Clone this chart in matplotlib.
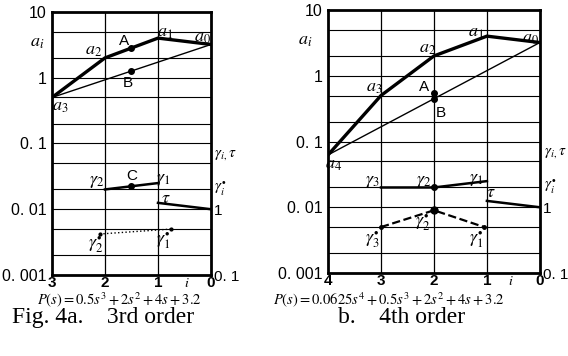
import matplotlib
matplotlib.use('Agg')
import matplotlib.pyplot as plt

plt.rcParams['mathtext.fontset'] = 'stix'
plt.rcParams['font.family'] = ['Liberation Sans Narrow', 'Liberation Sans', 'DejaVu Sans']

# --- data: coefficients a_i, gamma_i, tau, gamma_i* ---
# 3rd order
i3 = [3, 2, 1, 0]
a3 = [0.5, 2, 4, 3.2]
ptA3 = (1.5, 2.83)
ptB3 = (1.5, 1.26)
g_i3 = [2, 1]
g3 = [2.0, 2.5]
ptC3 = (1.5, 2.24)
tau_i = [1, 0]
tau = [1.25, 1.0]
gs_i3 = [2.1, 0.75]
gs3 = [0.42, 0.5]

# 4th order
i4 = [4, 3, 2, 1, 0]
a4 = [0.0625, 0.5, 2, 4, 3.2]
ptA4 = (2, 0.55)
ptB4 = (2, 0.45)
g_i4 = [3, 2, 1]
g4 = [2.0, 2.0, 2.5]
gs_i4 = [3, 2, 1.05]
gs4 = [0.5, 0.9, 0.5]

ylab = ['0. 001', '0. 01', '0. 1', '1', '10']
yval = [0.001, 0.01, 0.1, 1, 10]
grid_y = [m * 10.0 ** e for e in range(-3, 1) for m in (1, 2, 5)]

fig = plt.figure(figsize=(5.68, 3.56), dpi=100)
axL = fig.add_axes([0.0915, 0.2275, 0.280, 0.739])
axR = fig.add_axes([0.5775, 0.233, 0.373, 0.739])


def setup(ax, n, ipos):
    ax.set_yscale('log')
    ax.set_ylim(0.001, 10)
    ax.set_xlim(n, 0)
    for y in grid_y:
        ax.axhline(y, color='black', lw=0.8, zorder=1)
    for x in range(1, n):
        ax.axvline(x, color='black', lw=0.9, zorder=1)
    for s in ax.spines.values():
        s.set_linewidth(2)
    ax.set_yticks(yval)
    ax.set_yticklabels(ylab, fontsize=11.5)
    ax.minorticks_off()
    ax.set_xticks(range(n, -1, -1))
    ax.set_xticklabels([str(k) for k in range(n, -1, -1)], fontsize=11, fontweight='bold')
    ax.tick_params(axis='x', length=0, pad=1)
    ax.tick_params(axis='y', length=0, pad=4)
    ax.text(ipos, -0.045, '$i$', fontsize=10, ha='center', va='baseline',
            transform=ax.get_xaxis_transform())
    # right side scale (gamma, tau)
    ax2 = ax.twinx()
    ax2.set_yscale('log')
    ax2.set_ylim(0.1, 1000)
    ax2.set_yticks([0.1, 1])
    ax2.set_yticklabels(['0. 1', '1'], fontsize=11)
    ax2.minorticks_off()
    ax2.tick_params(length=0, pad=2)
    for s in ax2.spines.values():
        s.set_visible(False)
    ax2.text(1.02, 0.456, r'$\gamma_{i,}\tau$', transform=ax2.transAxes, fontsize=11, va='center')
    ax2.text(1.02, 0.33, r'$\gamma_i^{\bullet}$', transform=ax2.transAxes, fontsize=11, va='center')
    ax.text(-0.14, 0.885, '$a_i$', transform=ax.transAxes, fontsize=13, va='center')
    return ax2


# ---- panel a: 3rd order ----
g2L = setup(axL, 3, 0.45)
axL.plot(i3, a3, color='black', lw=2.4, zorder=3)
axL.plot([i3[0], i3[-1]], [a3[0], a3[-1]], color='black', lw=1.0, zorder=3)
axL.plot(*ptA3, 'o', color='black', ms=4, zorder=4)
axL.plot(*ptB3, 'o', color='black', ms=4, zorder=4)
g2L.plot(g_i3, g3, color='black', lw=1.8, zorder=3)
g2L.plot(*ptC3, 'o', color='black', ms=4, zorder=4)
g2L.plot(tau_i, tau, color='black', lw=1.8, zorder=3)
g2L.plot(gs_i3, gs3, color='black', lw=1.0, ls=':', marker='o', ms=2, zorder=3)

lbl = dict(fontsize=13, ha='center', va='center', zorder=5)
axL.text(2.22, 2.6, '$a_2$', **lbl)
axL.text(1.65, 3.6, 'A', fontsize=11, ha='center', va='center')
axL.text(0.86, 4.8, '$a_1$', **lbl)
axL.text(0.17, 4.1, '$a_0$', **lbl)
axL.text(1.57, 0.83, 'B', fontsize=11, ha='center', va='center')
axL.text(2.85, 0.36, '$a_3$', **lbl)
axL.text(1.5, 0.032, 'C', fontsize=11, ha='center', va='center')
axL.text(2.15, 0.026, r'$\gamma_2$', **lbl)
axL.text(0.9, 0.028, r'$\gamma_1$', **lbl)
axL.text(0.86, 0.0148, r'$\tau$', **lbl)
axL.text(2.18, 0.0029, r'$\gamma_2^{\bullet}$', **lbl)
axL.text(0.9, 0.0033, r'$\gamma_1^{\bullet}$', **lbl)

# ---- panel b: 4th order ----
g2R = setup(axR, 4, 0.55)
axR.plot(i4, a4, color='black', lw=2.4, zorder=3)
axR.plot([i4[0], i4[-1]], [a4[0], a4[-1]], color='black', lw=1.0, zorder=3)
axR.plot(*ptA4, 'o', color='black', ms=4, zorder=4)
axR.plot(*ptB4, 'o', color='black', ms=4, zorder=4)
g2R.plot(g_i4, g4, color='black', lw=1.8, zorder=3)
g2R.plot(2, 2.0, 'o', color='black', ms=4, zorder=4)
g2R.plot(tau_i, tau, color='black', lw=1.8, zorder=3)
g2R.plot(gs_i4, gs4, color='black', lw=1.6, ls='--', zorder=3)
g2R.plot(gs_i4, gs4, 'o', color='black', ms=2.5, zorder=4)
g2R.plot(2, 0.9, 'o', color='black', ms=5, zorder=4)

axR.text(3.89, 0.044, '$a_4$', **lbl)
axR.text(3.13, 0.67, '$a_3$', **lbl)
axR.text(2.13, 2.64, '$a_2$', **lbl)
axR.text(1.2, 4.6, '$a_1$', **lbl)
axR.text(0.17, 3.7, '$a_0$', **lbl)
axR.text(2.19, 0.67, 'A', fontsize=11, ha='center', va='center')
axR.text(1.87, 0.27, 'B', fontsize=11, ha='center', va='center')
axR.text(3.17, 0.0243, r'$\gamma_3$', **lbl)
axR.text(2.19, 0.0243, r'$\gamma_2$', **lbl)
axR.text(1.2, 0.026, r'$\gamma_1$', **lbl)
axR.text(0.92, 0.0166, r'$\tau$', **lbl)
axR.text(2.22, 0.0058, r'$\gamma_2^{\bullet}$', **lbl)
axR.text(3.17, 0.0032, r'$\gamma_3^{\bullet}$', **lbl)
axR.text(1.2, 0.0032, r'$\gamma_1^{\bullet}$', **lbl)

# equations and captions
fig.text(119 / 568, 1 - 304 / 356, r'$P(s) = 0.5s^3 + 2s^2 + 4s + 3.2$',
         fontsize=10.5, ha='center', va='baseline')
fig.text(389 / 568, 1 - 304 / 356, r'$P(s) = 0.0625s^4 + 0.5s^3 + 2s^2 + 4s + 3.2$',
         fontsize=10.5, ha='center', va='baseline')
fig.text(12 / 568, 1 - 323 / 356, 'Fig. 4a.    3rd order', fontsize=17,
         family='Liberation Serif', ha='left', va='baseline')
fig.text(338 / 568, 1 - 323 / 356, 'b.    4th order', fontsize=17,
         family='Liberation Serif', ha='left', va='baseline')

fig.savefig('out.png', dpi=100)
